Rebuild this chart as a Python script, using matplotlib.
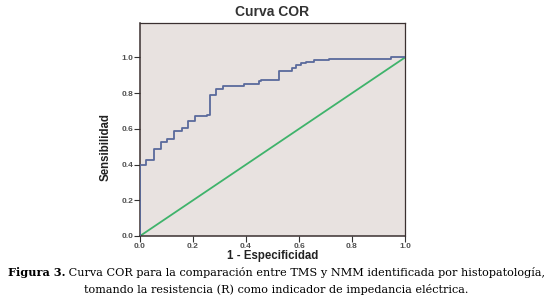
import matplotlib
matplotlib.use("Agg")
import matplotlib.pyplot as plt

# ROC curve vertices (1 - especificidad, sensibilidad)
fpr = [0.0, 0.0, 0.023, 0.053, 0.080, 0.103, 0.130, 0.158, 0.183, 0.208, 0.253,
       0.263, 0.286, 0.314, 0.391, 0.448, 0.458, 0.524, 0.575, 0.587, 0.606,
       0.625, 0.655, 0.712, 0.947, 1.0]
tpr = [0.0, 0.40, 0.426, 0.487, 0.525, 0.542, 0.587, 0.607, 0.645, 0.670, 0.678,
       0.787, 0.826, 0.840, 0.850, 0.868, 0.876, 0.924, 0.940, 0.958, 0.971,
       0.976, 0.986, 0.992, 1.0, 1.0]
ref_line = [0.0, 1.0]
ticks = [0.0, 0.2, 0.4, 0.6, 0.8, 1.0]

title = "Curva COR"
xlabel = "1 - Especificidad"
ylabel = "Sensibilidad"
cap_bold = "Figura 3."
cap_line1 = " Curva COR para la comparación entre TMS y NMM identificada por histopatología,"
cap_line2 = "tomando la resistencia (R) como indicador de impedancia eléctrica."

W, H = 551, 302
YTOP = 1.193
fig = plt.figure(figsize=(W / 100, H / 100), dpi=100)
fig.patch.set_facecolor("white")
ax = fig.add_axes([140 / W, 1 - 236 / H, 265 / W, 213 / H])
ax.set_facecolor("#e8e2e0")

ax.plot(ref_line, ref_line, color="#3fb36b", lw=1.3, zorder=2)
ax.plot(fpr, tpr, drawstyle="steps-post", color="#5a6a9c", lw=1.3, zorder=3)

ax.set_xlim(0, 1.0)
ax.set_ylim(0, YTOP)
ax.set_xticks(ticks)
ax.set_yticks(ticks)
ax.set_xticklabels([f"{t:.1f}" for t in ticks])
ax.set_yticklabels([f"{t:.1f}" for t in ticks])
ax.tick_params(direction="out", length=4, width=0.8, color="#333333",
               labelsize=6, labelcolor="#505050", pad=1)
for lab in ax.get_xticklabels() + ax.get_yticklabels():
    lab.set_fontweight("bold")
    lab.set_family("Liberation Sans")
for s in ax.spines.values():
    s.set_color("#3a3030")
    s.set_linewidth(0.9)
ax.spines["left"].set_linewidth(1.1)
ax.spines["bottom"].set_linewidth(1.1)

ax.set_title(title, fontsize=10, fontweight="bold", family="Liberation Sans",
             color="#333333", pad=5)
ax.set_xlabel(xlabel, fontsize=8.3, fontweight="bold", family="Liberation Sans",
              color="#222222")
ax.set_ylabel(ylabel, fontsize=8.3, fontweight="bold", family="Liberation Sans",
              color="#222222")
ax.xaxis.set_label_coords(0.5, -0.068)
ax.yaxis.set_label_coords(-0.108, 0.5 / YTOP)

# caption with bold prefix, centred line
fig.canvas.draw()
r = fig.canvas.get_renderer()
cap_kw = dict(family="DejaVu Serif", fontsize=8.15, color="black", va="baseline")
t1 = fig.text(0, 1 - 276 / H, cap_bold, fontweight="bold", **cap_kw)
t2 = fig.text(0, 1 - 276 / H, cap_line1, **cap_kw)
w1 = t1.get_window_extent(r).width
w2 = t2.get_window_extent(r).width
x0 = (W / 2 + 1 - (w1 + w2) / 2) / W
t1.set_x(x0)
t2.set_x(x0 + w1 / W)
fig.text((W / 2 + 1) / W, 1 - 293 / H, cap_line2, ha="center", **cap_kw)

fig.savefig("out.png", dpi=100)
